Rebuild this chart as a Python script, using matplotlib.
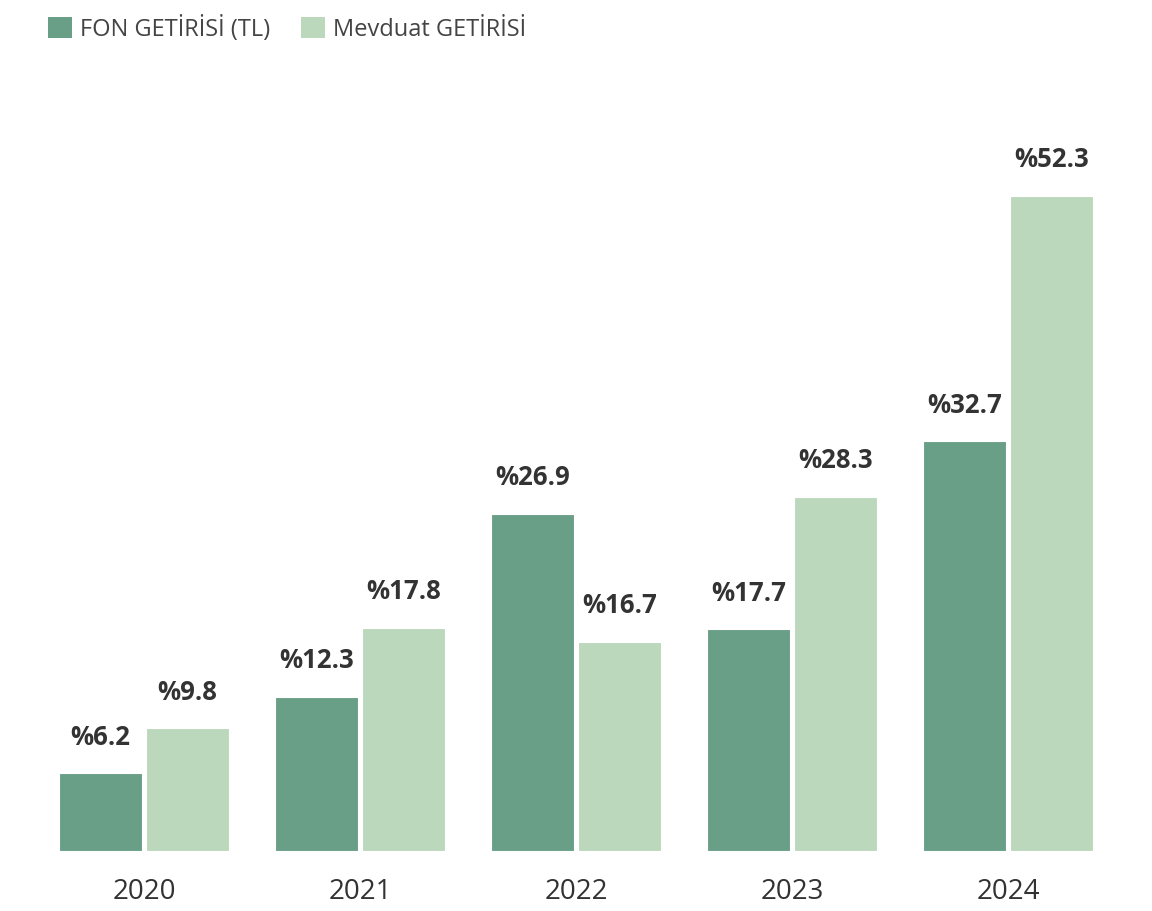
import matplotlib.pyplot as plt
from matplotlib.patches import Patch
import numpy as np

years = ["2020", "2021", "2022", "2023", "2024"]
fon = [6.2, 12.3, 26.9, 17.7, 32.7]
mevduat = [9.8, 17.8, 16.7, 28.3, 52.3]
series_names = ["FON GETİRİSİ (TL)", "Mevduat GETİRİSİ"]

dark = "#6a9f87"
light = "#bcd8bc"
txt = "#333333"

plt.rcParams['font.family'] = ['Open Sans', 'DejaVu Sans']

fig = plt.figure(figsize=(11.52, 9.12), dpi=100)
ax = fig.add_axes([0, 60 / 912, 1, 792 / 912])

x = np.arange(len(years))
w = 83 / 216
gap = 4 / 216
b1 = ax.bar(x - (w + gap) / 2, fon, w, color=dark, edgecolor="white", linewidth=0.8)
b2 = ax.bar(x + (w + gap) / 2, mevduat, w, color=light, edgecolor="white", linewidth=0.8)

for bars, vals in ((b1, fon), (b2, mevduat)):
    ax.bar_label(bars, labels=["%" + f"{v:.1f}" for v in vals], padding=17,
                 fontsize=18.5, fontweight="bold", color=txt)

ax.set_xlim(-144 / 216, (1152 - 144) / 216)
ax.set_ylim(0, 792 / 12.524)
ax.set_xticks(x)
ax.set_xticklabels(years, fontsize=20, color=txt)
ax.tick_params(axis="x", length=0, pad=19)
ax.set_yticks([])
for s in ax.spines.values():
    s.set_visible(False)

handles = [Patch(facecolor=dark), Patch(facecolor=light)]
fig.legend(handles, series_names, loc="upper left", bbox_to_anchor=(27 / 1152, 1 + 5 / 912),
           ncol=2, frameon=False, fontsize=17, handlelength=1, handleheight=1,
           handletextpad=0.35, columnspacing=1.3, labelcolor="#444444")

fig.savefig("out.png", dpi=100)
